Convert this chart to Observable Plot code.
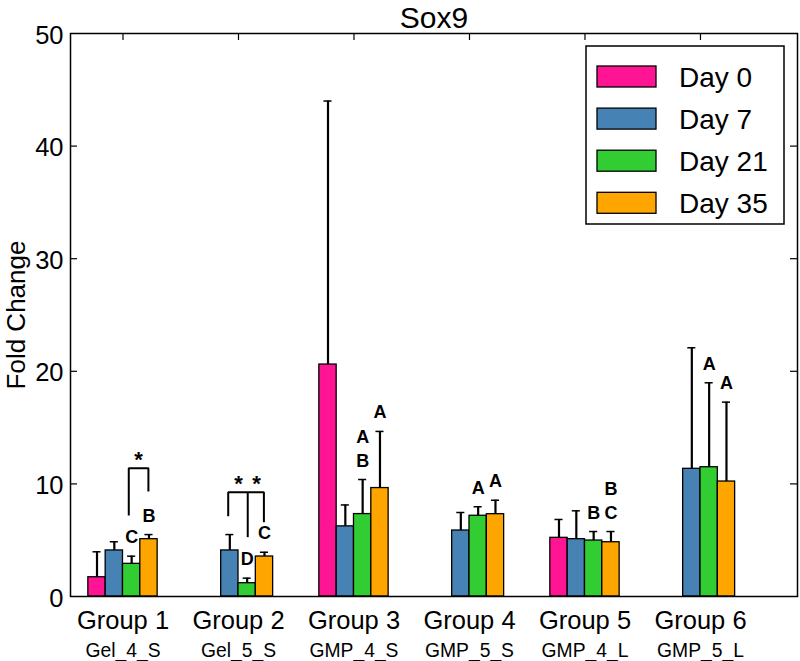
<!DOCTYPE html>
<html>
<head>
<meta charset="utf-8">
<script src="https://cdn.jsdelivr.net/npm/d3@7"></script>
<script src="https://cdn.jsdelivr.net/npm/@observablehq/plot@0.6"></script>
<style>
  body { margin: 0; background: #fff; }
  #wrap { position: relative; width: 800px; height: 661px; font-family: "Liberation Sans", Arial, sans-serif; }
  #wrap svg { display: block; }
  #legend { position: absolute; left: 0; top: 0; pointer-events: none; }
</style>
</head>
<body>
<div id="wrap"></div>
<script>
// ---- data ----
const groups = ["Group 1", "Group 2", "Group 3", "Group 4", "Group 5", "Group 6"];
const subLabels = ["Gel_4_S", "Gel_5_S", "GMP_4_S", "GMP_5_S", "GMP_4_L", "GMP_5_L"];
const days = ["Day 0", "Day 7", "Day 21", "Day 35"];
const colors = ["#FF1493", "#4682B4", "#32CD32", "#FFA500"];

const day0Mean  = [1.71, null, 20.6, null, 5.21, null];
const day7Mean  = [4.09, 4.09, 6.23, 5.86, 5.09, 11.34];
const day21Mean = [2.90, 1.18, 7.32, 7.17, 4.97, 11.48];
const day35Mean = [5.09, 3.55, 9.63, 7.31, 4.82, 10.21];

const day0Err  = [2.26, null, 23.4, null, 1.63, null];
const day7Err  = [0.77, 1.41, 1.90, 1.60, 2.52, 10.75];
const day21Err = [0.68, 0.45, 3.07, 0.80, 0.80, 7.50];
const day35Err = [0.41, 0.38, 5.03, 1.24, 0.95, 7.05];

const day0Letters  = [null, null, null, null, null, null];
const day7Letters  = [null, null, null, null, null, null];
const day21Letters = ["C", "D", "A\nB", "A", "B", "A"];
const day35Letters = ["B", "C", "A", "A", "B\nC", "A"];

const yTicks = [0, 10, 20, 30, 40, 50];

// significance brackets (data units) and stars
const bracketId = ["g1", "g1", "g1", "g1", "g2", "g2", "g2", "g2", "g2m", "g2m"];
const bracketX  = [1.05, 1.05, 1.22, 1.22, 1.911, 1.911, 2.22, 2.22, 2.08, 2.08];
const bracketY  = [7.19, 11.39, 11.39, 9.33, 7.13, 9.26, 9.26, 6.6, 9.26, 5.27];
const starX = [1.135, 2.0, 2.156];
const starY = [11.39, 9.26, 9.26];

// ---- build tables ----
const means = [day0Mean, day7Mean, day21Mean, day35Mean];
const errs = [day0Err, day7Err, day21Err, day35Err];
const letters = [day0Letters, day7Letters, day21Letters, day35Letters];
const barW = 0.15;
const rows = [];
days.forEach((day, k) => {
  groups.forEach((g, i) => {
    const m = means[k][i];
    if (m == null) return;
    const gx = i + 1;
    const x1 = gx - 2 * barW + k * barW;
    rows.push({day, x1, x2: x1 + barW, xc: x1 + barW / 2, mean: m, top: m + errs[k][i], letter: letters[k][i]});
  });
});
const groupPos = groups.map((g, i) => ({x: i + 1, label: g, sub: subLabels[i]}));
const bracket = bracketX.map((x, i) => ({id: bracketId[i], x, y: bracketY[i]}));
const stars = starX.map((x, i) => ({x, y: starY[i]}));
const capHalf = 0.035;

const chart = Plot.plot({
  width: 800,
  height: 661,
  marginLeft: 70,
  marginRight: 3,
  marginTop: 33,
  marginBottom: 65,
  x: {domain: [0.5455, 6.84], axis: null},
  y: {domain: [0, 50], axis: null},
  color: {domain: days, range: colors},
  style: {fontFamily: "'Liberation Sans', Arial, sans-serif", color: "black", background: "white", overflow: "visible"},
  marks: [
    Plot.rectY(rows, {x1: "x1", x2: "x2", y1: 0, y2: "mean", fill: "day", stroke: "black", strokeWidth: 1.3}),
    Plot.ruleX(rows, {x: "xc", y1: "mean", y2: "top", stroke: "black", strokeWidth: 2.2}),
    Plot.ruleY(rows, {y: "top", x1: d => d.xc - capHalf, x2: d => d.xc + capHalf, stroke: "black", strokeWidth: 1.5}),
    Plot.frame({stroke: "black", strokeWidth: 1.5}),
    Plot.tickY(yTicks.slice(1, -1), {y: d => d, insetRight: 720, stroke: "black", strokeWidth: 1.2}),
    Plot.tickY(yTicks.slice(1, -1), {y: d => d, insetLeft: 720, stroke: "black", strokeWidth: 1.2}),
    Plot.tickX(groupPos, {x: "x", insetBottom: 556, stroke: "black", strokeWidth: 1.2}),
    Plot.text(yTicks, {y: d => d, text: d => String(d), frameAnchor: "left", textAnchor: "end", dx: -7, dy: 2, fontSize: 25.5}),
    Plot.text(groupPos, {x: "x", text: "label", frameAnchor: "bottom", lineAnchor: "bottom", dy: 32, fontSize: 25.5}),
    Plot.text(groupPos, {x: "x", text: "sub", frameAnchor: "bottom", lineAnchor: "bottom", dy: 60, fontSize: 19.3}),
    Plot.text(["Fold Change"], {frameAnchor: "left", textAnchor: "middle", rotate: -90, dx: -54, fontSize: 26, lineAnchor: "middle"}),
    Plot.text(["Sox9"], {frameAnchor: "top", textAnchor: "middle", lineAnchor: "bottom", dy: -6, fontSize: 30}),
    Plot.text(rows.filter(d => d.letter), {x: "xc", y: "top", text: "letter", lineAnchor: "bottom", lineHeight: 1.33, dy: -13, fontSize: 18, fontWeight: "bold"}),
    Plot.line(bracket, {x: "x", y: "y", z: "id", stroke: "black", strokeWidth: 2, strokeLinejoin: "miter", strokeLinecap: "butt"}),
    Plot.text(stars, {x: "x", y: "y", text: () => "*", lineAnchor: "bottom", dy: -1.5, fontSize: 22, fontWeight: "bold"})
  ]
});

const wrap = document.getElementById("wrap");
wrap.appendChild(chart);

// ---- legend (overlay) ----
const leg = d3.select(wrap).append("svg").attr("id", "legend").attr("width", 800).attr("height", 661);
leg.append("rect").attr("x", 586).attr("y", 46).attr("width", 198).attr("height", 178)
  .attr("fill", "white").attr("stroke", "black").attr("stroke-width", 1.5);
days.forEach((d, i) => {
  const y0 = 66 + i * 42.1;
  leg.append("rect").attr("x", 597).attr("y", y0).attr("width", 59).attr("height", 21)
    .attr("fill", colors[i]).attr("stroke", "black").attr("stroke-width", 1.3);
  leg.append("text").attr("x", 679).attr("y", y0 + 21).attr("font-size", 28)
    .attr("font-family", "'Liberation Sans', Arial, sans-serif").attr("fill", "black").text(d);
});
</script>
</body>
</html>
